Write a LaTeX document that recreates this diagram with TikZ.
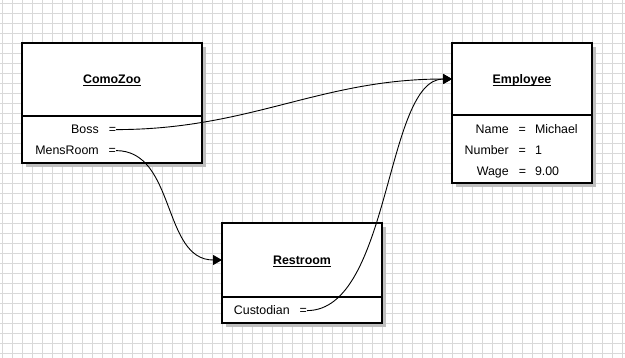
\documentclass[tikz,border=0pt]{standalone}
\usepackage{fontspec}
\setmainfont{Liberation Sans}
\usepackage{xcolor}
\usetikzlibrary{arrows.meta,positioning,shadows}
\definecolor{umlgrid}{HTML}{D9D9D9}
\definecolor{umlshadow}{HTML}{BFBFBF}
\newcommand{\umltitle}[1]{\underline{\smash{#1}}}

\begin{document}
\begin{tikzpicture}[x=1pt, y=-1pt,
    gridline/.style={draw=umlgrid, line width=0.8pt},
    classbox/.style={rectangle, draw=black, fill=white, line width=1.2pt, outer sep=0pt, inner sep=0pt, drop shadow={shadow xshift=4pt, shadow yshift=-4pt, fill=umlshadow, opacity=1}},
    titlebox/.style={classbox, anchor=north west, font=\fontsize{12.4}{14}\selectfont\bfseries, text height=8.8pt, text depth=0pt},
    fieldbox/.style={classbox},
    fld/.style={inner sep=0pt, outer sep=0pt, font=\fontsize{12.4}{14}\selectfont, text height=8.8pt, text depth=0pt},
    arr/.style={-{Triangle[length=9pt, width=10pt]}, line width=0.9pt, draw=black}
]
    \useasboundingbox [fill=white] (0,0) rectangle (625,358);
    % Grid
    \foreach \x in {2,12,...,622} \draw [gridline] (\x,0) -- (\x,358);
    \foreach \y in {3,13,...,353} \draw [gridline] (0,\y) -- (625,\y);

    % Classes
    \node (zoo) [titlebox, minimum width=180pt, minimum height=73pt] at (22,43) {\umltitle{ComoZoo}};
    \node (zoof) [fieldbox, minimum width=180pt, minimum height=47pt, below=0pt of zoo] {};

    \node (emp) [titlebox, minimum width=140pt, minimum height=72pt] at (452,43) {\umltitle{Employee}};
    \node (empf) [fieldbox, minimum width=140pt, minimum height=68pt, below=0pt of emp] {};

    \node (rest) [titlebox, minimum width=160pt, minimum height=74pt] at (222,223) {\umltitle{Restroom}};
    \node (restf) [fieldbox, minimum width=160pt, minimum height=26pt, below=0pt of rest] {};

    % Fields
    \node (boss) [fld, anchor=base east] at (116,134) {Boss\hspace{10pt}=};
    \node (mens) [fld, anchor=base east] at (116,155) {MensRoom\hspace{10pt}=};

    \node (name) [fld, anchor=base east] at (526,134) {Name\hspace{10pt}=};
    \node (namev) [fld, anchor=base west] at (535,134) {Michael};
    \node (num) [fld, anchor=base east] at (526,155) {Number\hspace{10pt}=};
    \node (numv) [fld, anchor=base west] at (535,155) {1};
    \node (wage) [fld, anchor=base east] at (526,176) {Wage\hspace{10pt}=};
    \node (wagev) [fld, anchor=base west] at (535,176) {9.00};

    \node (cust) [fld, anchor=base east] at (307,315) {Custodian\hspace{10pt}=};

    % References
    \draw [arr] (boss.east) .. controls +(134,0) and +(-132,0) .. (emp.west);
    \draw [arr] (mens.east) .. controls +(60,0) and +(-60,0) .. (rest.west);
    \draw [arr] (cust.east) .. controls +(84,0) and +(-67,0) .. (emp.west);
\end{tikzpicture}
\end{document}
